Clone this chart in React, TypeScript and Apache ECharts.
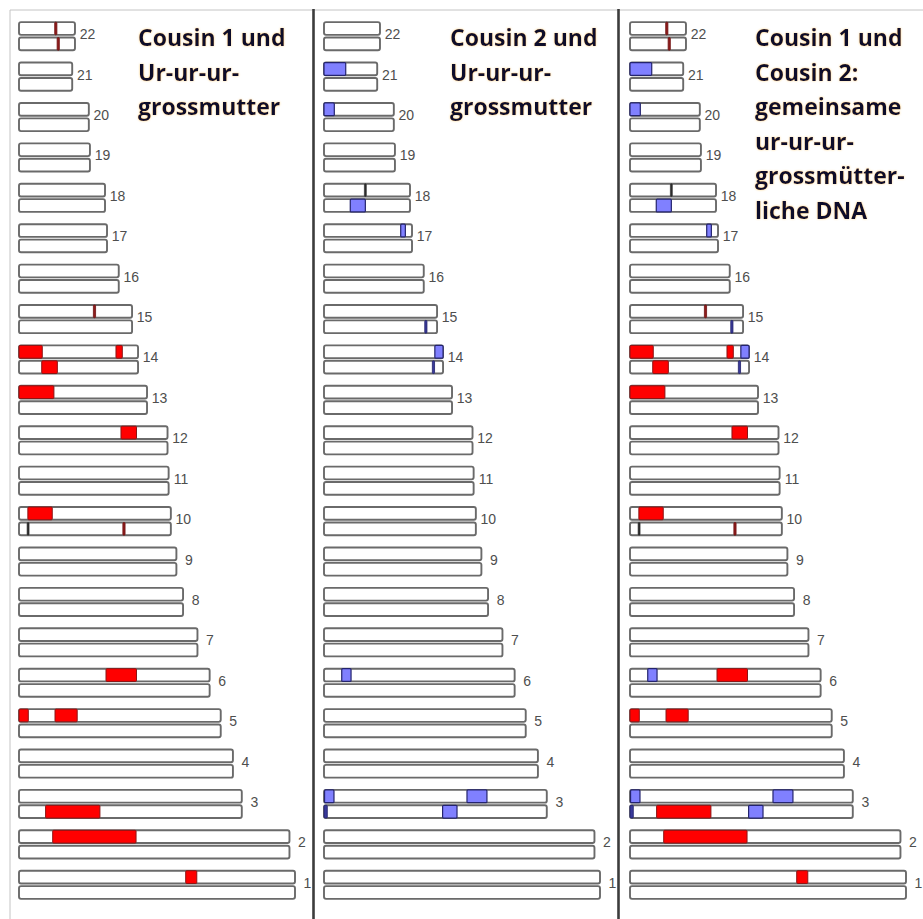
import React, { useEffect, useRef } from "react";
import * as echarts from "echarts";

// Chromosome numbers and their lengths (Mb)
const CHROMOSOMES = [1, 2, 3, 4, 5, 6, 7, 8, 9, 10, 11, 12, 13, 14, 15, 16, 17, 18, 19, 20, 21, 22];
const LENGTHS_MB = [249, 244, 201, 193, 182, 172, 161, 148, 142, 137, 135, 134, 115.5, 107.4, 102, 90, 79.4, 77.6, 64, 63, 48, 50.5];

// [chromosome, copy (0 = upper, 1 = lower), start Mb, end Mb, kind]
const COUSIN1_SEGMENTS: [number, number, number, number, string][] = [
  [22, 0, 32.3, 34.1, "redMark"],
  [22, 1, 34.5, 36.3, "redMark"],
  [15, 0, 67.2, 69.0, "redMark"],
  [14, 0, 0, 21, "red"],
  [14, 0, 87.5, 93.2, "red"],
  [14, 1, 20.5, 34.6, "red"],
  [13, 0, 0, 31.5, "red"],
  [12, 0, 92, 106, "red"],
  [10, 0, 8, 30, "red"],
  [10, 1, 7.3, 9.1, "darkMark"],
  [10, 1, 93.8, 95.6, "redMark"],
  [6, 0, 78.5, 106, "red"],
  [5, 0, 0, 8.4, "red"],
  [5, 0, 32.5, 52.5, "red"],
  [3, 1, 24, 73, "red"],
  [2, 0, 30.4, 105.6, "red"],
  [1, 0, 150.4, 160.4, "red"],
];

const COUSIN2_SEGMENTS: [number, number, number, number, string][] = [
  [21, 0, 0, 19.6, "blue"],
  [20, 0, 0, 9.3, "blue"],
  [18, 0, 36.4, 38.2, "darkMark"],
  [18, 1, 23.7, 37.3, "blue"],
  [17, 0, 69.2, 73.4, "blue"],
  [15, 1, 91, 92.8, "blueMark"],
  [14, 0, 100, 107.4, "blue"],
  [14, 1, 97.9, 99.6, "blueMark"],
  [6, 0, 16, 24.4, "blue"],
  [3, 0, 0.5, 9, "blue"],
  [3, 0, 129, 147, "blue"],
  [3, 1, 0, 3, "blueMark"],
  [3, 1, 107, 120, "blue"],
];

const TITLE_1 = ["Cousin 1 und", "Ur-ur-ur-", "grossmutter"];
const TITLE_2 = ["Cousin 2 und", "Ur-ur-ur-", "grossmutter"];
const TITLE_3 = ["Cousin 1 und", "Cousin 2:", "gemeinsame", "ur-ur-ur-", "grossmütter-", "liche DNA"];

const PANELS = [
  { segments: COUSIN1_SEGMENTS, title: TITLE_1 },
  { segments: COUSIN2_SEGMENTS, title: TITLE_2 },
  { segments: [...COUSIN1_SEGMENTS, ...COUSIN2_SEGMENTS], title: TITLE_3 },
];

const PANEL_LEFT = [19, 324, 630];
const TITLE_X = [138, 450, 755];

const KIND_STYLE: Record<string, { fill: string; stroke: string; lineWidth: number; minW: number }> = {
  red: { fill: "#ff0000", stroke: "#8a1414", lineWidth: 1, minW: 2 },
  redMark: { fill: "#8e1c1c", stroke: "#6e1010", lineWidth: 0.8, minW: 2.2 },
  darkMark: { fill: "#2b2b2b", stroke: "#2b2b2b", lineWidth: 0.6, minW: 2 },
  blue: { fill: "#8080ff", stroke: "#24246e", lineWidth: 1.2, minW: 2 },
  blueMark: { fill: "#3a3a9a", stroke: "#20206a", lineWidth: 0.8, minW: 2.2 },
};

const BAR_FRAC = 0.315; // bar height as fraction of a chromosome row
const GAP_FRAC = 0.033; // half gap between the two copies

export default function App() {
  const ref = useRef<HTMLDivElement>(null);

  useEffect(() => {
    if (!ref.current) return;
    const chart = echarts.init(ref.current, undefined, { renderer: "svg" });

    const grids = PANEL_LEFT.map((left) => ({ left, width: 276, top: 16, height: 889 }));
    const xAxes = PANEL_LEFT.map((_, i) => ({ type: "value", gridIndex: i, min: 0, max: 249, show: false }));
    const yAxes = PANEL_LEFT.map((_, i) => ({ type: "value", gridIndex: i, min: 0.5, max: 22.5, show: false }));

    const series: any[] = [];
    PANELS.forEach((panel, pi) => {
      series.push({
        type: "custom",
        name: "chromosomes" + pi,
        xAxisIndex: pi,
        yAxisIndex: pi,
        clip: false,
        z: 2,
        data: CHROMOSOMES.map((c, i) => [LENGTHS_MB[i], c]),
        renderItem: (params: any, api: any) => {
          const len = api.value(0);
          const chr = api.value(1);
          const p0 = api.coord([0, chr]);
          const p1 = api.coord([len, chr]);
          const unit = api.size([0, 1])[1];
          const h = unit * BAR_FRAC;
          const g = unit * GAP_FRAC;
          const cy = p0[1];
          const rectStyle = { fill: "#ffffff", stroke: "#6a6a6a", lineWidth: 1.9 };
          return {
            type: "group",
            children: [
              { type: "rect", shape: { x: p0[0], y: cy - g - h, width: p1[0] - p0[0], height: h, r: 2 }, style: rectStyle },
              { type: "rect", shape: { x: p0[0], y: cy + g, width: p1[0] - p0[0], height: h, r: 2 }, style: rectStyle },
              {
                type: "text",
                x: p1[0] + 12.5,
                y: cy - 2,
                style: {
                  text: String(chr),
                  fill: "#4e4e4e",
                  font: "14px 'Liberation Sans', Arial, sans-serif",
                  align: "center",
                  verticalAlign: "middle",
                },
              },
            ],
          };
        },
      });
      const segs = panel.segments;
      series.push({
        type: "custom",
        name: "segments" + pi,
        xAxisIndex: pi,
        yAxisIndex: pi,
        clip: false,
        z: 3,
        data: segs.map((s) => [s[2], s[0], s[3], s[1]]),
        renderItem: (params: any, api: any) => {
          const start = api.value(0);
          const chr = api.value(1);
          const end = api.value(2);
          const strand = api.value(3);
          const kind = segs[params.dataIndex][4];
          const st = KIND_STYLE[kind];
          const a = api.coord([start, chr]);
          const b = api.coord([end, chr]);
          const unit = api.size([0, 1])[1];
          const h = unit * BAR_FRAC;
          const g = unit * GAP_FRAC;
          const y = strand === 0 ? a[1] - g - h : a[1] + g;
          let x = a[0];
          let w = b[0] - a[0];
          if (w < st.minW) {
            x = (a[0] + b[0]) / 2 - st.minW / 2;
            w = st.minW;
          }
          return {
            type: "rect",
            shape: { x, y, width: w, height: h, r: 1 },
            style: { fill: st.fill, stroke: st.stroke, lineWidth: st.lineWidth },
          };
        },
      });
    });

    const graphic: any[] = [
      { type: "line", shape: { x1: 10, y1: 10, x2: 923, y2: 10 }, style: { stroke: "#c4c4c4", lineWidth: 1 }, z: 1 },
      { type: "line", shape: { x1: 10, y1: 10, x2: 10, y2: 919 }, style: { stroke: "#c4c4c4", lineWidth: 1 }, z: 1 },
      { type: "line", shape: { x1: 313.5, y1: 9, x2: 313.5, y2: 919 }, style: { stroke: "#3c3c3c", lineWidth: 2.6 }, z: 1 },
      { type: "line", shape: { x1: 618.5, y1: 9, x2: 618.5, y2: 919 }, style: { stroke: "#3c3c3c", lineWidth: 2.6 }, z: 1 },
    ];
    PANELS.forEach((panel, pi) => {
      panel.title.forEach((line, li) => {
        graphic.push({
          type: "text",
          x: TITLE_X[pi],
          y: 37 + li * 34.6,
          z: 10,
          style: {
            text: line,
            fill: "#10102a",
            font: "bold 23px 'Open Sans', sans-serif",
            align: "left",
            verticalAlign: "middle",
            textShadowColor: "rgba(255,170,0,0.45)",
            textShadowBlur: 2,
          },
        });
      });
    });

    chart.setOption({
      animation: false,
      backgroundColor: "#ffffff",
      grid: grids,
      xAxis: xAxes,
      yAxis: yAxes,
      series,
      graphic,
    });

    return () => chart.dispose();
  }, []);

  return (
    <div
      ref={ref}
      style={{ position: "absolute", left: 0, top: 0, width: 923, height: 919 }}
    />
  );
}
